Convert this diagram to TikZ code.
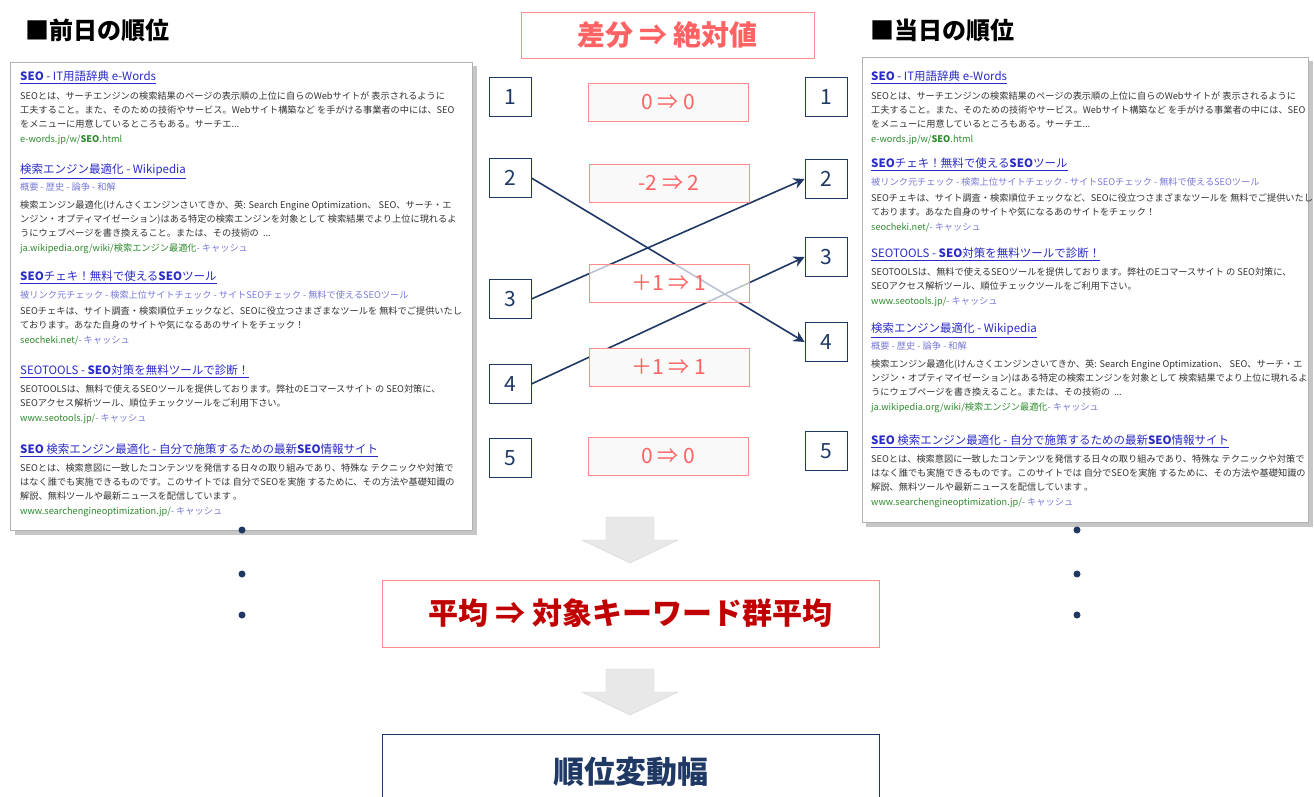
\documentclass[tikz,border=0pt]{standalone}
\usepackage{fontspec}
\setmainfont{Noto Sans CJK JP}
\usetikzlibrary{arrows.meta}

\definecolor{navy}{HTML}{1F3864}
\definecolor{pinkline}{HTML}{FF8C8C}
\definecolor{salmon}{HTML}{FF6262}
\definecolor{darkred}{HTML}{C00000}
\definecolor{linkblue}{HTML}{2B2BC8}
\definecolor{sublinkblue}{HTML}{7A7AD8}
\definecolor{snip}{HTML}{333333}
\definecolor{urlgreen}{HTML}{2E8B2E}

\newcommand{\ttl}[1]{{\fontsize{11.5}{14}\selectfont\color{linkblue}\underline{#1}}}
\newcommand{\sublinks}[1]{{\color{sublinkblue}#1}}
\newcommand{\resurl}[1]{{\color{urlgreen}#1}}
\newcommand{\cache}{{\color{sublinkblue} - キャッシュ}}

\newcommand{\resEwords}{\ttl{\textbf{SEO} - IT用語辞典 e-Words}\\[5pt]
SEOとは、サーチエンジンの検索結果のページの表示順の上位に自らのWebサイトが 表示されるように\\
工夫すること。また、そのための技術やサービス。Webサイト構築など を手がける事業者の中には、SEO\\
をメニューに用意しているところもある。サーチエ...\\[1pt]
\resurl{e-words.jp/w/\textbf{SEO}.html}}

\newcommand{\resWiki}{\ttl{検索エンジン最適化 - Wikipedia}\\[3pt]
\sublinks{概要 - 歴史 - 論争 - 和解}\\[4pt]
検索エンジン最適化(けんさくエンジンさいてきか、英: Search Engine Optimization、 SEO、サーチ・エ\\
ンジン・オプティマイゼーション)はある特定の検索エンジンを対象として 検索結果でより上位に現れるよ\\
うにウェブページを書き換えること。または、その技術の \ ...\\[1pt]
\resurl{ja.wikipedia.org/wiki/検索エンジン最適化}\cache}

\newcommand{\resCheki}{\ttl{\textbf{SEO}チェキ！無料で使える\textbf{SEO}ツール}\\[4pt]
\sublinks{被リンク元チェック - 検索上位サイトチェック - サイトSEOチェック - 無料で使えるSEOツール}\\[2pt]
SEOチェキは、サイト調査・検索順位チェックなど、SEOに役立つさまざまなツールを 無料でご提供いたし\\
ております。あなた自身のサイトや気になるあのサイトをチェック！\\[1pt]
\resurl{seocheki.net/}\cache}

\newcommand{\resTools}{\ttl{SEOTOOLS - \textbf{SEO}対策を無料ツールで診断！}\\[4pt]
SEOTOOLSは、無料で使えるSEOツールを提供しております。弊社のEコマースサイト の SEO対策に、\\
SEOアクセス解析ツール、順位チェックツールをご利用下さい。\\[1pt]
\resurl{www.seotools.jp/}\cache}

\newcommand{\resSite}{\ttl{\textbf{SEO} 検索エンジン最適化 - 自分で施策するための最新\textbf{SEO}情報サイト}\\[4pt]
SEOとは、検索意図に一致したコンテンツを発信する日々の取り組みであり、特殊な テクニックや対策で\\
はなく誰でも実施できるものです。このサイトでは 自分でSEOを実施 するために、その方法や基礎知識の\\
解説、無料ツールや最新ニュースを配信しています 。\\[1pt]
\resurl{www.searchengineoptimization.jp/}\cache}

\tikzset{
	heading/.style={anchor=west,inner sep=0pt,font=\fontsize{24}{24}\selectfont\bfseries},
	panel/.style={draw=gray!60,fill=white},
	panelshadow/.style={fill=gray!45},
	result/.style={anchor=north west,align=left,inner sep=0pt,text=snip,font=\fontsize{9.2}{14}\selectfont},
	rankbox/.style={draw=navy,thick,fill=white,minimum width=42pt,minimum height=39pt,inner sep=0pt,text=navy,font=\fontsize{21}{21}\selectfont},
	diffbox/.style={draw=pinkline,fill=gray!5,minimum width=160pt,minimum height=38pt,inner sep=0pt,text=salmon,font=\fontsize{21}{21}\selectfont},
	rankarrow/.style={navy,line width=1.6pt,-{Stealth[length=11pt,width=11pt]}},
	blockarrow/.style={fill=gray!18,draw=gray!35},
	bigbox/.style={minimum width=497pt,inner sep=0pt,font=\bfseries},
}

\begin{document}
\begin{tikzpicture}[x=1pt,y=-1pt]
	\useasboundingbox (0,0) rectangle (1314,797);
	\clip (0,0) rectangle (1314,797);
	% headings
	\node[heading] (prevhead) at (25,30) {■前日の順位};
	\node[heading] (currhead) at (870,30) {■当日の順位};
	% search result panels
	\fill[panelshadow] (15,66) rectangle (477,535);
	\draw[panel] (10,62) rectangle (472,530);
	\fill[panelshadow] (866,61) rectangle (1313,527);
	\draw[panel] (862,57) rectangle (1308,522);
	\node[result] (prevA) at (20,71) {\resEwords};
	\node[result] (prevB) at (20,164) {\resWiki};
	\node[result] (prevC) at (20,271) {\resCheki};
	\node[result] (prevD) at (20,365) {\resTools};
	\node[result] (prevE) at (20,444) {\resSite};
	\node[result] (currA) at (871,71) {\resEwords};
	\node[result] (currC) at (871,158) {\resCheki};
	\node[result] (currD) at (871,248) {\resTools};
	\node[result] (currB) at (871,323) {\resWiki};
	\node[result] (currE) at (871,435) {\resSite};
	% ranks
	\foreach \i/\y in {1/97,2/178,3/299,4/384,5/458}
		\node[rankbox] (L\i) at (510,\y) {\i};
	\foreach \i/\y in {1/97,2/179,3/257,4/342,5/451}
		\node[rankbox] (R\i) at (826,\y) {\i};
	\draw[rankarrow] (L2.east) -- (R4.west);
	\draw[rankarrow] (L3.east) -- (R2.west);
	\draw[rankarrow] (L4.east) -- (R3.west);
	% differences
	\node[diffbox,fill=white,minimum width=293pt,minimum height=46pt,font=\fontsize{28}{28}\selectfont\bfseries] (diffhead) at (667.5,35) {差分 ⇒ 絶対値};
	\node[diffbox] (D1) at (668,102) {0 ⇒ 0};
	\node[diffbox] (D2) at (669,183) {-2 ⇒ 2};
	\node[diffbox,fill=white,fill opacity=0.7,text opacity=1] (D3) at (669,283) {＋1 ⇒ 1};
	\node[diffbox] (D4) at (669,367) {＋1 ⇒ 1};
	\node[diffbox] (D5) at (668,456) {0 ⇒ 0};
	% more keywords
	\foreach \y in {530,574,615} {
		\fill[navy] (242,\y) circle (3.5pt);
		\fill[navy] (1077,\y) circle (3.5pt);
	}
	% flow
	\foreach \t in {517,669}
		\filldraw[blockarrow] (606,\t) -- (654,\t) -- (654,\t+23) -- (678,\t+23) -- (630,\t+46) -- (582,\t+23) -- (606,\t+23) -- cycle;
	\node[bigbox,draw=pinkline,minimum height=67pt,text=darkred,font=\fontsize{30}{30}\selectfont\bfseries] (average) at (630.5,613.5) {平均 ⇒ 対象キーワード群平均};
	\node[bigbox,draw=navy,minimum height=76pt,text=navy,font=\fontsize{31}{31}\selectfont\bfseries] (range) at (630.5,772) {順位変動幅};
\end{tikzpicture}
\end{document}
